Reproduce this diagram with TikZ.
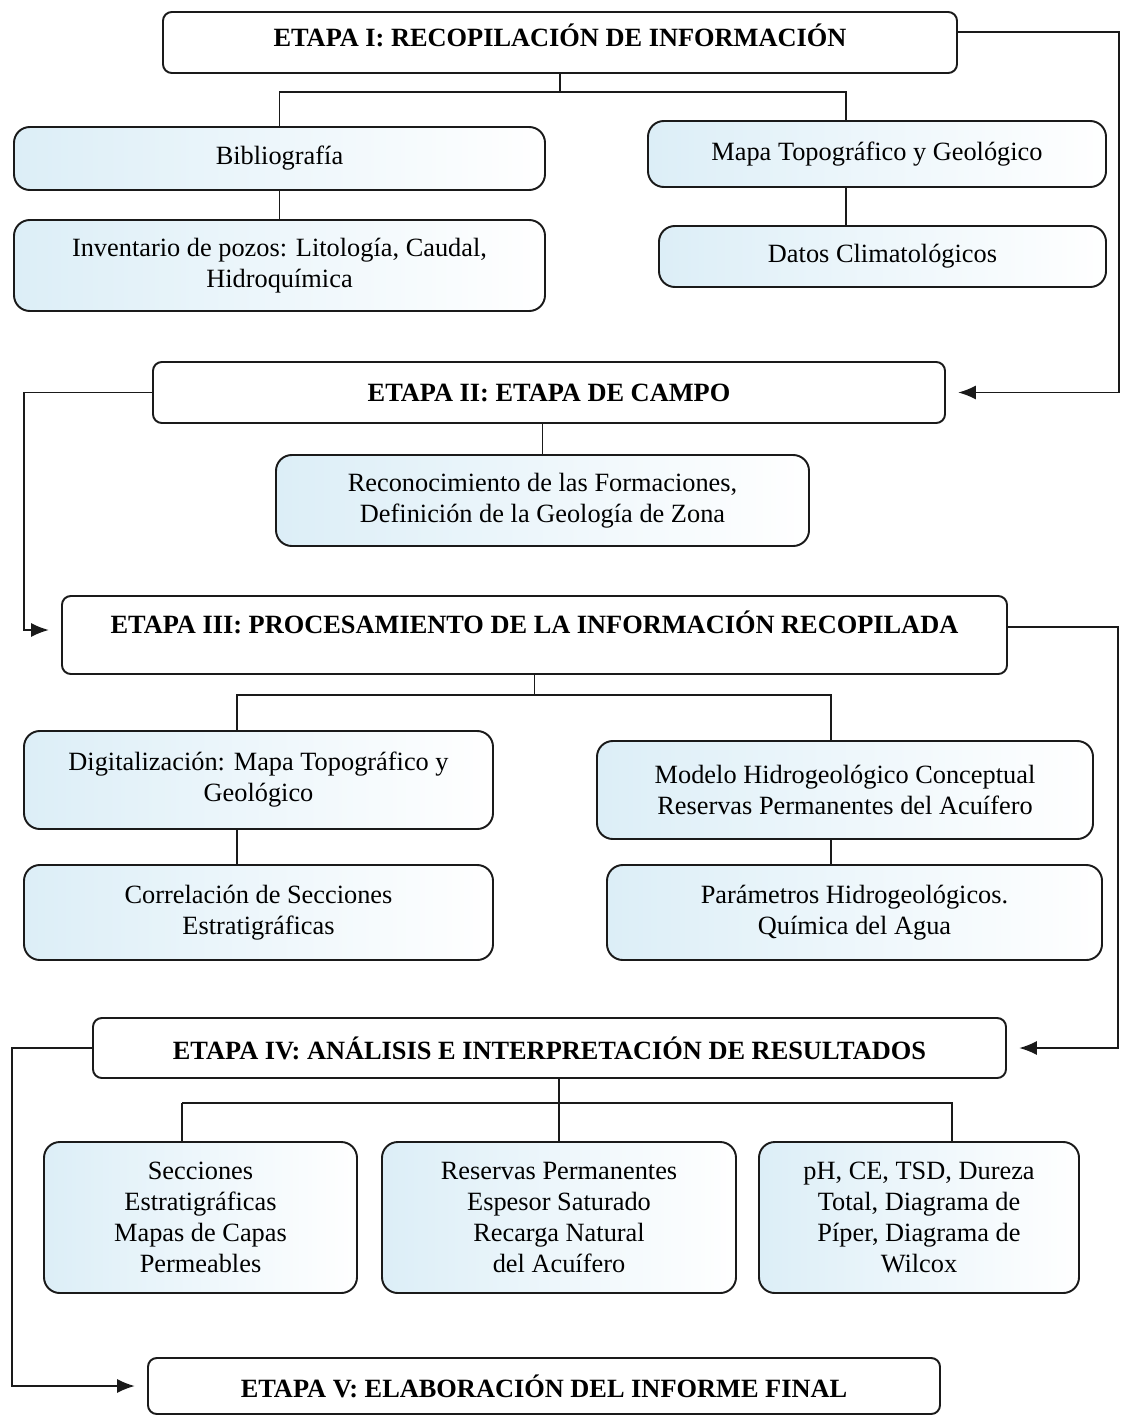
\documentclass[tikz,border=0pt]{standalone}
\usepackage{fontspec}
\setmainfont{Liberation Serif}
\usetikzlibrary{arrows.meta,positioning}
\definecolor{paleblue}{HTML}{DCEEF7}
\definecolor{inkline}{HTML}{1A1A1A}

\begin{document}
\begin{tikzpicture}[x=0.02cm, y=-0.02cm,
    etapa/.style={rectangle, rounded corners=5pt, draw=inkline, fill=white, line width=1.1pt, font=\fontsize{15}{18}\selectfont\bfseries, align=center, inner sep=0pt},
    tarea/.style={rectangle, rounded corners=9pt, draw=inkline, left color=paleblue, right color=white, line width=1.1pt, font=\fontsize{15}{17.6}\selectfont, align=center, inner sep=0pt},
    sz/.style 2 args={minimum width=#1*0.02cm, minimum height=#2*0.02cm},
    link/.style={draw=inkline, line width=0.9pt},
    flow/.style={draw=inkline, line width=0.9pt, -{Latex[length=10pt,width=8pt]}, shorten >=7pt}
  ]
    \useasboundingbox (0,0) rectangle (1121,1416);

    % etapa I
    \node[etapa, sz={794}{61}] (e1) at (560,42.5) {\raisebox{-0.08cm}[0pt][0pt]{ETAPA I: RECOPILACIÓN DE INFORMACIÓN}};
    \node[tarea, sz={531}{63}] (bib) at (279.5,158.5) {Bibliografía};
    \node[tarea, sz={531}{91}] (inv) at (279.5,265.5) {Inventario de pozos: Litología, Caudal,\\Hidroquímica};
    \node[tarea, sz={458}{66}] (mapa) at (877,154) {Mapa Topográfico y Geológico};
    \node[tarea, sz={447}{61}] (clima) at (882.5,256.5) {Datos Climatológicos};

    % etapa II
    \node[etapa, sz={792}{61}] (e2) at (549,392.5) {ETAPA II: ETAPA DE CAMPO};
    \node[tarea, sz={533}{91}] (recon) at (542.5,500.5) {Reconocimiento de las Formaciones,\\Definición de la Geología de Zona};

    % etapa III
    \node[etapa, sz={945}{78}] (e3) at (534.5,635) {\raisebox{0.03cm}[0pt][0pt]{ETAPA III: PROCESAMIENTO DE LA INFORMACIÓN RECOPILADA}};
    \node[tarea, sz={469}{98}] (digit) at (258.5,780) {Digitalización: Mapa Topográfico y\\Geológico};
    \node[tarea, sz={469}{95}] (corr) at (258.5,912.5) {Correlación de Secciones\\Estratigráficas};
    \node[tarea, sz={496}{98}] (model) at (845,790) {Modelo Hidrogeológico Conceptual\\Reservas Permanentes del Acuífero};
    \node[tarea, sz={495}{95}] (param) at (854.5,912.5) {Parámetros Hidrogeológicos.\\Química del Agua};

    % etapa IV
    \node[etapa, sz={913}{60}] (e4) at (549.5,1048) {ETAPA IV: ANÁLISIS E INTERPRETACIÓN DE RESULTADOS};
    \node[tarea, sz={313}{151}] (secc) at (200.5,1217.5) {Secciones\\Estratigráficas\\Mapas de Capas\\Permeables};
    \node[tarea, sz={354}{151}] (reser) at (559,1217.5) {Reservas Permanentes\\Espesor Saturado\\Recarga Natural\\del Acuífero};
    \node[tarea, sz={320}{151}] (quim) at (919,1217.5) {pH, CE, TSD, Dureza\\Total, Diagrama de\\Píper, Diagrama de\\Wilcox};

    % etapa V
    \node[etapa, sz={792}{56}] (e5) at (544,1386) {ETAPA V: ELABORACIÓN DEL INFORME FINAL};

    % rails for the return arrows
    \coordinate (railR1) at (1119,0);
    \coordinate (railL1) at (24,0);
    \coordinate (railR2) at (1118,0);
    \coordinate (railL2) at (12,0);

    % tree links
    \draw[link] (e1.south) -- (e1.south |- 0,92) -| (bib.north);
    \draw[link] (e1.south |- 0,92) -| ([xshift=-0.62cm]mapa.north);
    \draw[link] (bib) -- (inv);
    \draw[link] ([xshift=-0.62cm]mapa.south) -- ([xshift=-0.62cm]mapa.south |- clima.north);
    \draw[link] (e2.south -| recon.north) -- (recon.north);
    \draw[link] (e3.south) -- (e3.south |- 0,695) -| ([xshift=-0.43cm]digit.north);
    \draw[link] (e3.south |- 0,695) -| ([xshift=-0.28cm]model.north);
    \draw[link] ([xshift=-0.43cm]digit.south) -- ([xshift=-0.43cm]digit.south |- corr.north);
    \draw[link] ([xshift=-0.28cm]model.south) -- ([xshift=-0.28cm]model.south |- param.north);
    \draw[link] (e4.south -| reser.north) -- (reser.north);
    \draw[link] ([xshift=-0.37cm]secc.north |- 0,1103) -| ([xshift=0.66cm]quim.north);
    \draw[link] ([xshift=-0.37cm]secc.north |- 0,1103) -- ([xshift=-0.37cm]secc.north);

    % return arrows
    \draw[flow] ([yshift=0.21cm]e1.east) -- ([yshift=0.21cm]e1.east -| railR1) |- (e2.east);
    \draw[flow] (e2.west) -- (e2.west -| railL1) |- ([yshift=0.1cm]e3.west);
    \draw[flow] ([yshift=0.16cm]e3.east) -- ([yshift=0.16cm]e3.east -| railR2) |- (e4.east);
    \draw[flow] (e4.west) -- (e4.west -| railL2) |- (e5.west);
  \end{tikzpicture}
\end{document}
